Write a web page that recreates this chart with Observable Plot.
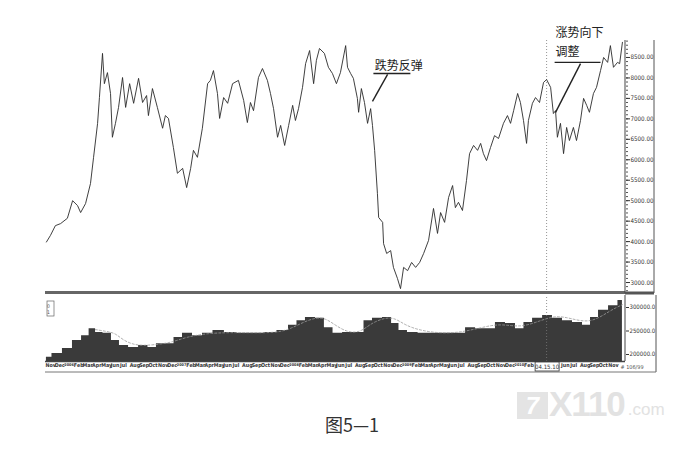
<!DOCTYPE html>
<html>
<head>
<meta charset="utf-8">
<script src="https://cdn.jsdelivr.net/npm/d3@7"></script>
<script src="https://cdn.jsdelivr.net/npm/@observablehq/plot@0.6"></script>
<style>
  body { margin: 0; background: #fff; }
  #wrap { position: relative; width: 698px; height: 452px; overflow: hidden; }
  #top { position: absolute; left: 0; top: 0; }
  #vol { position: absolute; left: 0; top: 295px; }
  #cap { position: absolute; left: 325px; top: 411px; font: 18px "Noto Sans CJK SC"; color: #333; }
  #wm { position: absolute; left: 517px; top: 389px; height: 30px; display: flex; align-items: flex-end;
        font-family: "Liberation Sans", sans-serif; color: #e2e2e2; }
  #wm .logo { width: 31px; height: 27px; background: #e4e4e4; color: #fff; font: italic bold 24px "Liberation Sans"; 
              text-align: center; line-height: 28px; margin-right: 1px; }
  #wm .big { font-weight: bold; font-size: 35px; line-height: 30px; letter-spacing: -1px; }
  #wm .small { font-size: 17px; line-height: 19px; margin-left: 3px; }
</style>
</head>
<body>
<div id="wrap">
  <div id="top"></div>
  <div id="vol"></div>
  <div id="wm"><div class="logo">7</div><span class="big">X110</span><span class="small">.com</span></div>
  <div id="cap">图5—1</div>
</div>
<script>
// price
const priceRise = [
  ["2005-11-04",3990],["2005-11-17",4150],["2005-12-03",4390],["2005-12-20",4440],["2006-01-11",4570],
  ["2006-01-28",5000],["2006-02-13",4880],["2006-02-23",4710],["2006-03-11",4930],["2006-03-27",5420],
  ["2006-04-06",6060],["2006-04-19",6890],["2006-04-25",7520],["2006-05-05",8600],["2006-05-11",7860],
  ["2006-05-21",8130],["2006-05-31",7620],["2006-06-06",6550],["2006-06-16",6890],["2006-06-26",7280],
  ["2006-07-09",8010],["2006-07-19",7280],["2006-08-01",7860],["2006-08-14",7380],["2006-08-30",7990],
  ["2006-09-12",7400],["2006-09-25",7570],["2006-10-01",7080],["2006-10-14",7740],["2006-10-30",7280],
  ["2006-11-16",6770],["2006-11-25",7080],["2006-12-05",7010],["2006-12-21",6300],["2007-01-03",5670],
  ["2007-01-20",5790],["2007-02-02",5320],["2007-02-15",5790],["2007-02-24",6230],["2007-03-09",6060],
  ["2007-03-25",6770],["2007-04-11",7860],["2007-04-20",7940],["2007-04-30",8180],["2007-05-13",7620],
  ["2007-05-20",7010],["2007-06-02",7520],["2007-06-15",7380],["2007-07-01",7860]
];
const priceTop = [
  ["2007-07-20",7940],["2007-08-06",7450],["2007-08-18",6910],["2007-08-28",7400],["2007-09-07",7200],
  ["2007-09-23",8010],["2007-10-06",8230],["2007-10-22",7940],["2007-11-01",7620],["2007-11-11",7250],
  ["2007-11-24",6550],["2007-12-04",6840],["2007-12-17",6350],["2007-12-30",6840],["2008-01-12",7330],
  ["2008-01-21",6960],["2008-01-31",7250],["2008-02-13",7770],["2008-02-23",8350],["2008-03-07",8670],
  ["2008-03-20",7860],["2008-03-29",8430],["2008-04-08",8720],["2008-04-24",8600],["2008-05-07",8260],
  ["2008-05-20",8110],["2008-06-02",7860],["2008-06-15",8130],["2008-07-02",8790],["2008-07-08",8260],
  ["2008-07-18",8110],["2008-07-27",7990],["2008-08-09",7500],["2008-08-13",7160],["2008-08-22",7740],
  ["2008-09-01",7400],["2008-09-11",6890],["2008-09-21",7250],["2008-09-27",6840],["2008-10-04",6230],
  ["2008-10-13",5180],["2008-10-17",4590],["2008-10-30",4470],["2008-11-02",3950],["2008-11-12",3710],
  ["2008-11-25",3780],["2008-12-04",3370],["2008-12-17",3100],["2008-12-27",2850],["2009-01-06",3370],
  ["2009-01-19",3290],["2009-02-01",3490],["2009-02-14",3370],["2009-02-27",3490],["2009-03-12",3710]
];
const priceRecovery = [
  ["2009-03-28",4030],["2009-04-13",4810],["2009-04-26",4200],["2009-05-06",4710],["2009-05-19",4470],
  ["2009-06-01",5080],["2009-06-14",5370],["2009-06-23",4830],["2009-07-03",4960],["2009-07-16",4760],
  ["2009-07-29",5490],["2009-08-08",6150],["2009-08-21",6350],["2009-09-03",6230],["2009-09-13",6400],
  ["2009-09-22",6150],["2009-10-02",5980],["2009-10-15",6300],["2009-10-28",6590],["2009-11-10",6520],
  ["2009-11-26",6890],["2009-12-09",7080],["2009-12-19",6890],["2009-12-29",7200],["2010-01-11",7620],
  ["2010-01-20",7400],["2010-01-30",6960],["2010-02-09",6400],["2010-02-15",6960],["2010-02-28",7380],
  ["2010-03-10",7520],["2010-03-23",7400],["2010-04-05",7890],["2010-04-15",7960],["2010-04-28",7770],
  ["2010-05-07",7130],["2010-05-14",7200],["2010-05-20",6550],["2010-05-30",6890],["2010-06-09",6150],
  ["2010-06-19",6790],["2010-06-28",6470],["2010-07-11",6790],["2010-07-21",6470],["2010-08-03",6960],
  ["2010-08-13",7500],["2010-08-23",7330],["2010-09-01",7160],["2010-09-14",7620],["2010-09-24",7770],
  ["2010-10-07",8180],["2010-10-17",8500],["2010-10-30",8380],["2010-11-08",8790],["2010-11-18",8260],
  ["2010-12-01",8380],["2010-12-08",8350],["2010-12-17",8870]
];

// lower panel: filled series and its dotted average
const volume = [
  ["2005-11-04",194000],["2005-12-10",202000],["2006-01-11",213000],["2006-02-13",230000],["2006-03-11",240000],
  ["2006-04-03",255000],["2006-04-22",247000],["2006-05-21",245000],["2006-06-16",230000],["2006-07-12",219000],
  ["2006-08-14",215000],["2006-09-15",219000],["2006-10-14",215000],["2006-11-09",223000],["2006-12-12",223000],
  ["2007-01-03",236000],["2007-02-05",245000],["2007-03-09",240000],["2007-04-11",245000],["2007-05-16",251000],
  ["2007-06-24",247000],["2007-08-06",245000],["2007-09-20",245000],["2007-11-01",247000],["2007-12-13",251000],
  ["2008-01-15",262000],["2008-02-06",272000],["2008-03-10",279000],["2008-04-11",277000],["2008-05-07",257000],
  ["2008-06-06",245000],["2008-07-08",247000],["2008-08-19",247000],["2008-09-11",272000],["2008-10-13",277000],
  ["2008-11-15",279000],["2008-12-11",266000],["2009-01-02",251000],["2009-02-04",247000],["2009-03-12",245000],
  ["2009-04-26",245000],["2009-06-07",245000],["2009-07-10",245000],["2009-08-11",257000],["2009-09-13",255000],
  ["2009-10-15",255000],["2009-11-16",268000],["2009-12-19",266000],["2010-01-20",255000],["2010-02-12",268000],
  ["2010-03-17",277000],["2010-04-18",283000],["2010-05-20",277000],["2010-06-22",272000],["2010-07-24",268000],
  ["2010-08-26",262000],["2010-09-14",279000],["2010-10-17",294000],["2010-11-18",304000],["2010-12-17",315000]
];
const volumeAvg = [
  ["2006-04-12",253000],["2006-05-21",249000],["2006-06-16",245000],["2006-07-12",230000],["2006-08-14",221000],
  ["2006-09-15",219000],["2006-10-24",221000],["2006-12-12",225000],["2007-02-05",238000],["2007-04-11",245000],
  ["2007-06-24",247000],["2007-09-20",246000],["2007-12-13",247000],["2008-02-06",266000],["2008-03-26",279000],
  ["2008-04-28",277000],["2008-05-30",262000],["2008-07-08",247000],["2008-08-19",247000],["2008-09-21",266000],
  ["2008-11-08",279000],["2008-12-11",277000],["2009-01-12",262000],["2009-03-02",251000],["2009-05-06",245000],
  ["2009-07-10",247000],["2009-09-13",257000],["2009-11-16",266000],["2010-01-20",257000],["2010-03-26",272000],
  ["2010-05-14",283000],["2010-07-02",277000],["2010-09-05",266000],["2010-11-08",294000],["2010-12-17",306000]
];

const priceTicks = [3000, 3500, 4000, 4500, 5000, 5500, 6000, 6500, 7000, 7500, 8000, 8500];
const volumeTicks = [200000, 250000, 300000];
const cursorDate = "2010-04-15";
const cursorLabel = "04.15.10";

// annotations
const notes = [
  {text: "跌势反弹", date: "2008-10-04", value: 8300},
  {text: "涨势向下", date: "2010-05-14", value: 9090},
  {text: "调整", date: "2010-05-14", value: 8620}
];
const noteLines = [
  {d1: "2008-09-30", v1: 8110, d2: "2009-01-28", v2: 8110},
  {d1: "2008-11-15", v1: 8085, d2: "2008-09-27", v2: 7425},
  {d1: "2010-05-11", v1: 8380, d2: "2010-10-07", v2: 8380},
  {d1: "2010-08-03", v1: 8350, d2: "2010-05-14", v2: 7160}
];

const parse = d3.utcParse("%Y-%m-%d");
const toRows = (arr) => arr.map(([d, v]) => ({date: parse(d), value: v}));
const priceData = toRows(priceRise.concat(priceTop, priceRecovery));
const volData = toRows(volume);
const avgData = toRows(volumeAvg);
const cursor = parse(cursorDate);
const xDomain = [parse("2005-11-01"), parse("2010-12-27")];
const noteRows = notes.map(n => ({...n, date: parse(n.date)}));
const lineRows = noteLines.map(l => ({x1: parse(l.d1), y1: l.v1, x2: parse(l.d2), y2: l.v2}));

const axisFont = "DejaVu Sans Condensed";

let priceChart = Plot.plot({
  width: 698,
  height: 295,
  marginLeft: 45,
  marginRight: 73,
  marginTop: 40,
  marginBottom: 3,
  x: {type: "utc", domain: xDomain, axis: null},
  y: {domain: [2756, 8915], axis: null},
  style: {background: "transparent", fontFamily: axisFont},
  marks: [
    Plot.ruleX([cursor], {stroke: "#777", strokeWidth: 0.8, strokeDasharray: "1,2"}),
    Plot.line(priceData, {x: "date", y: "value", stroke: "#2a2a2a", strokeWidth: 0.9}),
    Plot.axisY(d3.range(2800, 8901, 100), {anchor: "right", tickSize: 2, tickFormat: () => "", stroke: "#555", label: null}),
    Plot.axisY(priceTicks, {anchor: "right", tickSize: 4, tickPadding: 1, fontSize: 6.2, label: null,
      tickFormat: d => d.toFixed(2), fill: "#333", stroke: "#333"}),
    Plot.ruleY([2756], {stroke: "#666", strokeWidth: 3}),
    Plot.link(lineRows, {x1: "x1", y1: "y1", x2: "x2", y2: "y2", stroke: "#222", strokeWidth: 1.4}),
    Plot.text(noteRows, {x: "date", y: "value", text: "text", textAnchor: "start",
      fontSize: 12, fontFamily: "Noto Sans CJK SC", fill: "#222"})
  ]
});
d3.select("#top").append(() => priceChart);

// right border lines of the price panel
let ts = d3.select(priceChart);
ts.append("line").attr("x1", 625).attr("x2", 625).attr("y1", 40).attr("y2", 293).attr("stroke", "#444");
ts.append("line").attr("x1", 654).attr("x2", 654).attr("y1", 40).attr("y2", 293).attr("stroke", "#555");
ts.append("line").attr("x1", 625).attr("x2", 654).attr("y1", 293).attr("y2", 293).attr("stroke", "#555").attr("stroke-width", 3);

// month row; the boxed cursor date covers March to May 2010
const monthTicks = d3.utcMonth.range(parse("2005-11-01"), parse("2010-11-02"))
  .filter(d => !(d >= parse("2010-03-01") && d <= parse("2010-05-31")));
const monthFmt = d => d.getUTCMonth() === 0 ? String(d.getUTCFullYear()) : d3.utcFormat("%b")(d);

let volChart = Plot.plot({
  width: 698,
  height: 80,
  marginLeft: 45,
  marginRight: 73,
  marginTop: 2,
  marginBottom: 14,
  x: {type: "utc", domain: xDomain, axis: null},
  y: {domain: [185100, 321300], axis: null},
  style: {background: "transparent", fontFamily: axisFont},
  marks: [
    Plot.areaY(volData, {x: "date", y1: 185100, y2: "value", curve: "step", fill: "#3a3a3a"}),
    Plot.line(avgData, {x: "date", y: "value", stroke: "#999", strokeWidth: 0.8, strokeDasharray: "2,2", curve: "basis"}),
    Plot.ruleX([cursor], {stroke: "#777", strokeWidth: 0.8, strokeDasharray: "1,2"}),
    Plot.ruleY([185100], {stroke: "#444", strokeWidth: 1.5}),
    Plot.axisY(volumeTicks, {anchor: "right", tickSize: 3, tickPadding: 1, fontSize: 6, label: null,
      tickFormat: d => d.toFixed(1), fill: "#333", stroke: "#333"}),
    Plot.axisX(monthTicks, {anchor: "bottom", tickSize: 0, tickPadding: 2, fontSize: 5.3, fontWeight: "bold",
      textAnchor: "start", tickFormat: monthFmt, fill: "#333", label: null})
  ]
});
d3.select("#vol").append(() => volChart);

let vs = d3.select(volChart);
// year labels are longer than a month is wide: set them smaller
vs.selectAll('g[aria-label="x-axis tick label"] text')
  .filter(function() { return /^\d{4}$/.test(this.textContent); })
  .attr("font-size", 3.8).attr("dy", "-0.1em");
vs.append("line").attr("x1", 625).attr("x2", 625).attr("y1", 0).attr("y2", 66).attr("stroke", "#444");
vs.append("line").attr("x1", 656).attr("x2", 656).attr("y1", 0).attr("y2", 77).attr("stroke", "#555");
vs.append("line").attr("x1", 45).attr("x2", 656).attr("y1", 77).attr("y2", 77).attr("stroke", "#777");
// small legend box at the top left of the lower panel
vs.append("rect").attr("x", 47).attr("y", 6).attr("width", 7).attr("height", 15)
  .attr("fill", "none").attr("stroke", "#666").attr("stroke-width", 0.7);
vs.append("text").attr("x", 48.5).attr("y", 12.5).attr("font-size", 5).attr("fill", "#555").text("0");
vs.append("text").attr("x", 48.5).attr("y", 19).attr("font-size", 5).attr("fill", "#555").text("1");
// boxed cursor date on the time row
const cx = volChart.scale("x").apply(cursor);
vs.append("rect").attr("x", cx - 11).attr("y", 67).attr("width", 24).attr("height", 9)
  .attr("fill", "#fff").attr("stroke", "#333").attr("stroke-width", 0.8);
vs.append("text").attr("x", cx + 1).attr("y", 74).attr("text-anchor", "middle").attr("font-size", 6)
  .attr("font-family", axisFont).attr("fill", "#333").text(cursorLabel);
vs.append("text").attr("x", 632).attr("y", 74).attr("font-size", 5.5)
  .attr("font-family", axisFont).attr("fill", "#555").text("# 106/99");
</script>
</body>
</html>
